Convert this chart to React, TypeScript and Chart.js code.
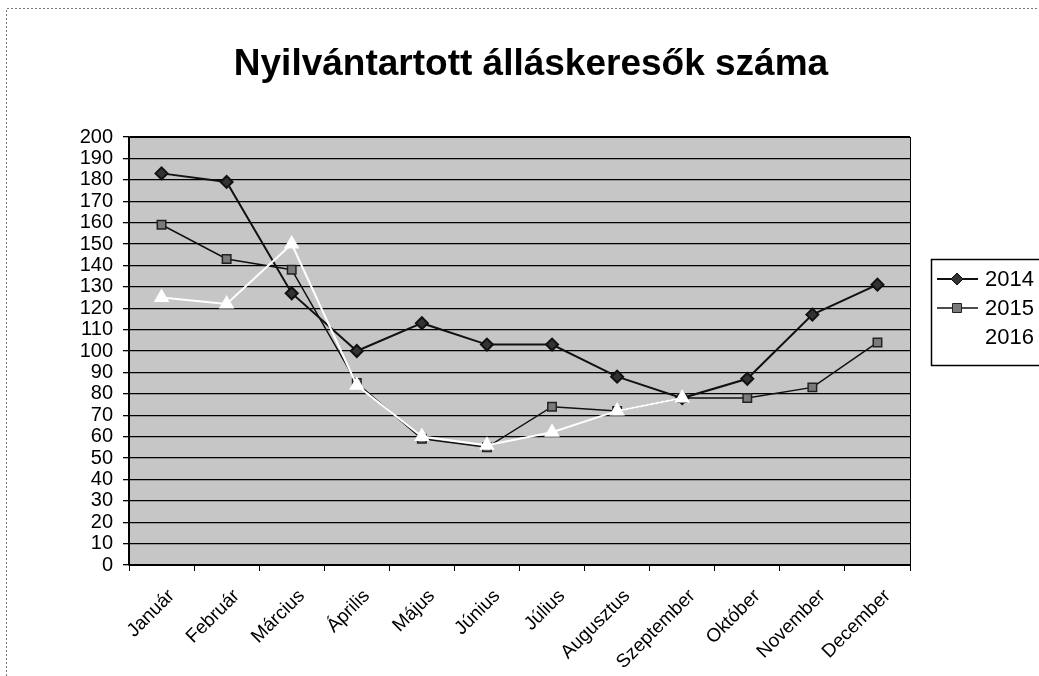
import React, { useEffect, useRef } from "react";
import { Chart, registerables } from "chart.js";

Chart.register(...registerables);

const TITLE = "Nyilvántartott álláskeresők száma";
const MONTHS = [
  "Január", "Február", "Március", "Április", "Május", "Június",
  "Július", "Augusztus", "Szeptember", "Október", "November", "December",
];
const SERIES_NAMES = ["2014", "2015", "2016"];
const VALUES_2014 = [183, 179, 127, 100, 113, 103, 103, 88, 78, 87, 117, 131];
const VALUES_2015 = [159, 143, 138, 85, 59, 55, 74, 72, 78, 78, 83, 104];
const VALUES_2016 = [125, 122, 150, 84, 60, 56, 62, 72, 78, null, null, null];
const Y_MIN = 0;
const Y_MAX = 200;
const Y_STEP = 10;

const FONT = "'Liberation Sans', Arial, sans-serif";

function drawMarker(ctx: CanvasRenderingContext2D, style: string, x: number, y: number, r: number, fill: string, stroke: string) {
  ctx.save();
  ctx.beginPath();
  if (style === "rectRot") {
    ctx.moveTo(x, y - r);
    ctx.lineTo(x + r, y);
    ctx.lineTo(x, y + r);
    ctx.lineTo(x - r, y);
    ctx.closePath();
  } else if (style === "rect") {
    ctx.rect(x - r * 0.75, y - r * 0.75, r * 1.5, r * 1.5);
  } else {
    ctx.moveTo(x, y - r);
    ctx.lineTo(x + r * 0.87, y + r * 0.5);
    ctx.lineTo(x - r * 0.87, y + r * 0.5);
    ctx.closePath();
  }
  ctx.fillStyle = fill;
  ctx.fill();
  ctx.strokeStyle = stroke;
  ctx.lineWidth = 1;
  ctx.stroke();
  ctx.restore();
}

const decorPlugin = {
  id: "decor",
  beforeDraw(chart: any) {
    const { ctx, chartArea } = chart;
    ctx.save();
    ctx.fillStyle = "#ffffff";
    ctx.fillRect(0, 0, chart.width, chart.height);
    // outer dotted frame
    ctx.strokeStyle = "#777";
    ctx.lineWidth = 1;
    ctx.setLineDash([2, 2]);
    ctx.beginPath();
    ctx.moveTo(6.5, chart.height);
    ctx.lineTo(6.5, 8.5);
    ctx.lineTo(chart.width, 8.5);
    ctx.stroke();
    ctx.setLineDash([]);
    // plot area background
    ctx.fillStyle = "#c6c6c6";
    ctx.fillRect(chartArea.left, chartArea.top, chartArea.right - chartArea.left, chartArea.bottom - chartArea.top);
    // title
    ctx.fillStyle = "#000";
    ctx.font = `bold 37px ${FONT}`;
    ctx.textAlign = "center";
    ctx.textBaseline = "alphabetic";
    ctx.fillText(TITLE, 531, 75);
    ctx.restore();
  },
  afterDraw(chart: any) {
    const { ctx, chartArea } = chart;
    ctx.save();
    ctx.strokeStyle = "#000";
    ctx.lineWidth = 1;
    ctx.strokeRect(chartArea.left + 0.5, chartArea.top + 0.5, chartArea.right - chartArea.left, chartArea.bottom - chartArea.top);
    // legend
    const lx = 931, ly = 259, lw = 130, lh = 106;
    ctx.fillStyle = "#fff";
    ctx.fillRect(lx, ly, lw, lh);
    ctx.strokeStyle = "#000";
    ctx.lineWidth = 1.5;
    ctx.strokeRect(lx + 0.5, ly + 0.5, lw, lh);
    ctx.font = `22px ${FONT}`;
    ctx.textAlign = "left";
    ctx.textBaseline = "middle";
    chart.data.datasets.forEach((ds: any, i: number) => {
      const y = ly + 20 + i * 29;
      ctx.strokeStyle = ds.borderColor;
      ctx.lineWidth = ds.borderWidth;
      ctx.beginPath();
      ctx.moveTo(lx + 6, y);
      ctx.lineTo(lx + 47, y);
      ctx.stroke();
      drawMarker(ctx, ds.pointStyle, lx + 26, y, ds.pointRadius, ds.pointBackgroundColor, ds.pointBorderColor);
      ctx.fillStyle = "#000";
      ctx.fillText(ds.label, lx + 54, y + 1);
    });
    ctx.restore();
  },
};

export default function App() {
  const ref = useRef<HTMLCanvasElement | null>(null);
  useEffect(() => {
    if (!ref.current) return;
    const chart = new Chart(ref.current, {
      type: "line",
      data: {
        labels: MONTHS,
        datasets: [
          {
            label: SERIES_NAMES[0],
            data: VALUES_2014,
            borderColor: "#111",
            borderWidth: 2,
            pointStyle: "rectRot",
            pointRadius: 6,
            pointBackgroundColor: "#333",
            pointBorderColor: "#111",
            order: 2,
          },
          {
            label: SERIES_NAMES[1],
            data: VALUES_2015,
            borderColor: "#111",
            borderWidth: 1.5,
            pointStyle: "rect",
            pointRadius: 6,
            pointBackgroundColor: "#7a7a7a",
            pointBorderColor: "#222",
            order: 1,
          },
          {
            label: SERIES_NAMES[2],
            data: VALUES_2016,
            borderColor: "#ffffff",
            borderWidth: 2,
            pointStyle: "triangle",
            pointRadius: 7,
            pointBackgroundColor: "#ffffff",
            pointBorderColor: "#ffffff",
            spanGaps: false,
            order: 0,
          },
        ],
      },
      options: {
        responsive: false,
        animation: false,
        layout: { padding: { top: 137, right: 129, left: 0, bottom: 0 } },
        plugins: {
          legend: { display: false },
          title: { display: false },
          tooltip: { enabled: false },
        },
        scales: {
          x: {
            offset: true,
            afterFit: (s: any) => { s.height = 111; },
            grid: { drawOnChartArea: false, drawTicks: true, tickLength: 6, color: "#000", offset: true },
            border: { color: "#000", width: 1.5 },
            ticks: {
              autoSkip: false,
              minRotation: 45,
              maxRotation: 45,
              padding: 14,
              labelOffset: 10,
              color: "#000",
              font: { family: FONT, size: 19 },
            },
          },
          y: {
            min: Y_MIN,
            max: Y_MAX,
            afterFit: (s: any) => { s.width = 129; },
            grid: { color: "#000", lineWidth: 1.3, tickLength: 6, drawTicks: true },
            border: { color: "#000", width: 1.5 },
            ticks: {
              stepSize: Y_STEP,
              autoSkip: false,
              padding: 10,
              color: "#000",
              font: { family: FONT, size: 20 },
            },
          },
        },
      },
      plugins: [decorPlugin],
    });
    return () => chart.destroy();
  }, []);
  return (
    <div style={{ position: "absolute", left: 0, top: 0, width: 1039, height: 676, background: "#fff" }}>
      <canvas ref={ref} width={1039} height={676} style={{ display: "block" }} />
    </div>
  );
}
